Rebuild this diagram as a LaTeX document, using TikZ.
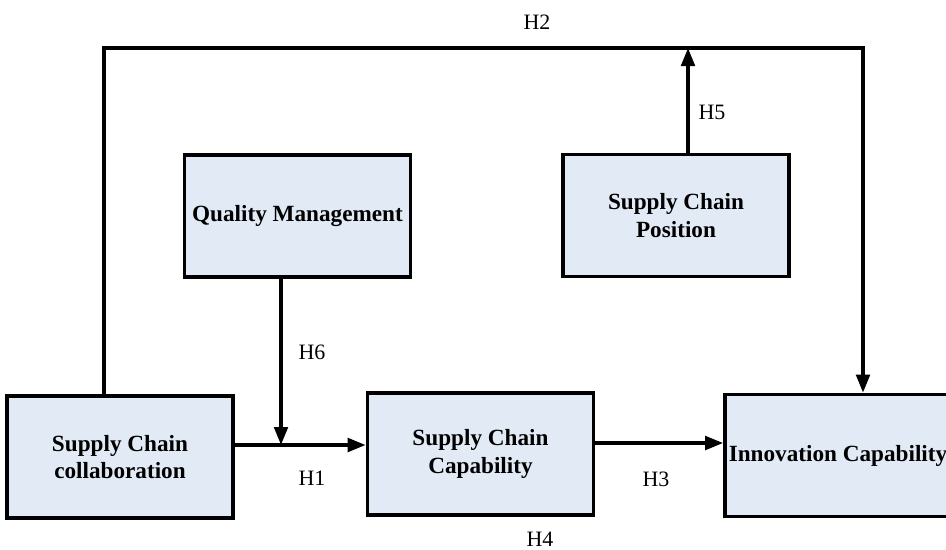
\documentclass[tikz,border=0pt]{standalone}
\usepackage{fontspec}
\setmainfont{Liberation Serif}
\usepackage{xcolor}
\usetikzlibrary{arrows.meta}
\definecolor{boxcol}{HTML}{E2EBF5}

\begin{document}
\begin{tikzpicture}[
  x=0.02cm, y=-0.02cm,
  >={Triangle[length=0.36cm,width=0.27cm]},
  varnode/.style={draw, line width=2.1pt, fill=boxcol, minimum width=4.52cm, minimum height=2.44cm,
                  align=center, font=\fontsize{13.2}{15.5}\selectfont\bfseries, inner sep=2pt},
  arr/.style={->, line width=2pt},
  hyplabel/.style={font=\fontsize{12.5}{14}\selectfont},
]
\clip (0,0) rectangle (946,549);

\node[varnode] (SCC)   at (120,457)   {Supply Chain\\collaboration};
\node[varnode] (QM)    at (297.5,216) {Quality Management};
\node[varnode] (SCCAP) at (480.5,454) {Supply Chain\\Capability};
\node[varnode] (SCP)   at (676,215.5) {Supply Chain\\Position};
\node[varnode] (IC)    at (838,455.5) {Innovation Capability};

\coordinate (TL)   at (104,48);
\coordinate (TR)   at (863,48);
\coordinate (H5T)  at (688,48);
\coordinate (JUNC) at (281,445);
\coordinate (H3Y)  at (660,443);

% direct and moderated paths
\draw[arr] (TL |- SCC.north) -- (TL) -- (TR) -- (TR |- IC.north);
\draw[arr] (H5T |- SCP.north) -- (H5T);
\draw[arr] (JUNC |- QM.south) -- (JUNC);
\draw[arr] (SCC.east |- JUNC) -- (SCCAP.west |- JUNC);
\draw[arr] (SCCAP.east |- H3Y) -- (IC.west |- H3Y);

\node[hyplabel] (H1) at (312,478) {H1};
\node[hyplabel] (H2) at (537,22)  {H2};
\node[hyplabel] (H3) at (656,479) {H3};
\node[hyplabel] (H4) at (540,539) {H4};
\node[hyplabel] (H5) at (712,112) {H5};
\node[hyplabel] (H6) at (312,352) {H6};

\end{tikzpicture}
\end{document}
